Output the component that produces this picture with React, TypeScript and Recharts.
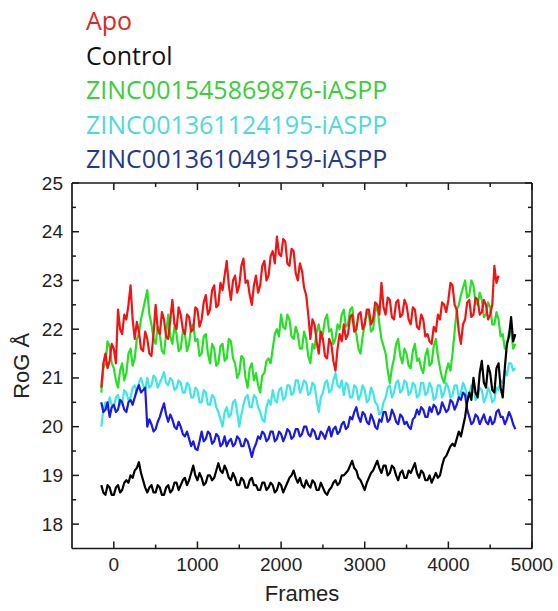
import React from 'react';
import { LineChart, Line, XAxis, YAxis } from 'recharts';

const frames = [
  -150, -125, -100, -75, -50, -25, 0, 25,
  50, 75, 100, 125, 150, 175, 200, 225,
  250, 275, 300, 325, 350, 375, 400, 425,
  450, 475, 500, 525, 550, 575, 600, 625,
  650, 675, 700, 725, 750, 775, 800, 825,
  850, 875, 900, 925, 950, 975, 1000, 1025,
  1050, 1075, 1100, 1125, 1150, 1175, 1200, 1225,
  1250, 1275, 1300, 1325, 1350, 1375, 1400, 1425,
  1450, 1475, 1500, 1525, 1550, 1575, 1600, 1625,
  1650, 1675, 1700, 1725, 1750, 1775, 1800, 1825,
  1850, 1875, 1900, 1925, 1950, 1975, 2000, 2025,
  2050, 2075, 2100, 2125, 2150, 2175, 2200, 2225,
  2250, 2275, 2300, 2325, 2350, 2375, 2400, 2425,
  2450, 2475, 2500, 2525, 2550, 2575, 2600, 2625,
  2650, 2675, 2700, 2725, 2750, 2775, 2800, 2825,
  2850, 2875, 2900, 2925, 2950, 2975, 3000, 3025,
  3050, 3075, 3100, 3125, 3150, 3175, 3200, 3225,
  3250, 3275, 3300, 3325, 3350, 3375, 3400, 3425,
  3450, 3475, 3500, 3525, 3550, 3575, 3600, 3625,
  3650, 3675, 3700, 3725, 3750, 3775, 3800, 3825,
  3850, 3875, 3900, 3925, 3950, 3975, 4000, 4025,
  4050, 4075, 4100, 4125, 4150, 4175, 4200, 4225,
  4250, 4275, 4300, 4325, 4350, 4375, 4400, 4425,
  4450, 4475, 4500, 4525, 4550, 4575, 4600, 4625,
  4650, 4675, 4700, 4725, 4750, 4775, 4800,
];

const apo = [
  20.8, 21.3, 21.5, 21.2, 21.35, 21.7, 21.6, 21.3,
  22.4, 22.0, 21.9, 22.3, 22.2, 22.5, 22.9, 22.2,
  21.8, 22.15, 21.95, 21.6, 21.55, 21.95, 21.8, 21.5,
  21.45, 21.9, 22.5, 22.0, 21.9, 22.35, 22.2, 21.85,
  21.8, 22.2, 22.6, 22.1, 22.0, 22.45, 22.3, 22.0,
  21.9, 22.3, 22.25, 21.95, 22.0, 22.45, 22.4, 22.05,
  22.2, 22.55, 22.7, 22.3, 22.4, 22.8, 22.9, 22.45,
  22.5, 22.95, 22.8, 23.1, 23.4, 22.9, 22.6, 23.0,
  23.1, 22.75, 22.9, 23.3, 23.45, 22.95, 23.0, 22.7,
  22.5, 22.9, 23.1, 22.75, 22.9, 23.3, 23.4, 23.0,
  23.1, 23.5, 23.6, 23.35, 23.9, 23.55, 23.5, 23.85,
  23.8, 23.35, 23.3, 23.65, 23.6, 23.15, 23.0, 23.35,
  23.2, 22.85, 22.7, 22.3, 21.8, 22.2, 22.1, 21.75,
  21.5, 21.95, 21.8, 21.45, 21.4, 21.8, 21.7, 21.35,
  21.15, 21.6, 21.9, 21.75, 22.1, 21.8, 21.9, 22.25,
  22.3, 21.95, 22.0, 22.3, 22.35, 22.0, 22.1, 22.4,
  22.4, 22.1, 22.2, 22.55, 22.5, 22.3, 22.95, 22.45,
  22.3, 22.65, 22.6, 22.25, 22.2, 22.55, 22.6, 22.25,
  22.3, 22.6, 22.5, 22.2, 22.1, 22.45, 22.4, 22.05,
  22.0, 22.3, 22.2, 21.85, 21.9, 21.75, 21.7, 22.05,
  21.95, 22.3, 22.2, 22.55, 22.5, 22.35, 22.6, 22.95,
  22.9, 22.5, 22.4, 21.95, 21.7, 22.1, 22.2, 22.55,
  22.6, 22.25, 22.3, 22.65, 22.6, 22.3, 22.35, 22.6,
  22.5, 22.2, 22.3, 22.5, 23.3, 22.95, 23.1, null,
  null, null, null, null, null, null, null,
];

const control = [
  18.8, 18.65, 18.6, 18.8, 18.75, 18.6, 18.6, 18.75,
  18.8, 18.65, 18.7, 18.85, 18.9, 18.85, 19.0, 18.95,
  19.1, 19.15, 19.27, 19.05, 18.9, 18.75, 18.65, 18.75,
  18.8, 18.65, 18.65, 18.8, 18.75, 18.6, 18.6, 18.75,
  18.8, 18.65, 18.7, 18.85, 18.85, 18.7, 18.8, 18.9,
  18.95, 18.8, 18.9, 19.05, 19.2, 19.0, 18.9, 19.05,
  18.95, 18.8, 18.85, 19.0, 19.0, 18.9, 18.95, 19.1,
  19.25, 19.1, 19.05, 19.2, 19.1, 18.95, 18.9, 19.05,
  18.95, 18.8, 18.8, 18.95, 18.9, 18.75, 18.75, 18.9,
  18.95, 18.8, 18.8, 18.7, 18.7, 18.85, 18.85, 18.7,
  18.75, 18.85, 18.8, 18.65, 18.7, 18.85, 18.8, 18.65,
  18.75, 18.85, 18.95, 19.0, 19.1, 18.95, 18.85, 18.95,
  18.8, 18.75, 18.9, 18.8, 18.75, 18.9, 18.85, 18.7,
  18.7, 18.85, 18.75, 18.65, 18.6, 18.7, 18.75, 18.85,
  18.9, 18.8, 18.85, 19.0, 19.0, 19.05, 19.1, 19.2,
  19.3, 19.15, 19.1, 18.95, 18.9, 18.8, 18.7, 18.85,
  18.95, 19.05, 19.1, 19.2, 19.3, 19.15, 19.05, 19.2,
  19.2, 19.0, 19.05, 19.2, 19.15, 19.0, 18.9, 19.05,
  19.1, 18.95, 18.95, 19.1, 19.05, 19.15, 19.25, 19.05,
  18.95, 19.1, 19.05, 18.9, 18.9, 19.0, 18.85, 18.95,
  19.05, 18.95, 19.0, 19.2, 19.35, 19.4, 19.5, 19.6,
  19.65, 19.6, 19.75, 19.9, 19.8, 20.0, 20.2, 20.5,
  20.7, 20.55, 21.0, 20.7, 20.6, 21.1, 21.35, 20.9,
  20.8, 21.25, 21.1, 20.75, 20.7, 21.2, 21.3, 20.8,
  20.6, 21.2, 21.7, 21.85, 22.25, 21.75, 21.9,
];

const zinc876 = [
  20.7, 21.2, 21.3, 21.75, 21.65, 21.3, 21.2, 20.95,
  20.8, 21.15, 21.3, 20.95, 21.1, 21.5, 21.6, 21.25,
  21.4, 21.8, 21.9, 22.2, 22.4, 22.6, 22.8, 22.3,
  22.1, 21.8, 21.7, 22.05, 21.9, 21.55, 21.5, 21.9,
  22.3, 21.85, 21.7, 22.05, 21.9, 21.55, 21.6, 21.95,
  21.9, 21.55, 21.7, 22.05, 22.1, 21.75, 21.8, 21.45,
  21.5, 21.85, 21.9, 21.5, 21.3, 21.7, 21.6, 21.25,
  21.3, 21.65, 21.7, 21.35, 21.4, 21.8, 21.75, 21.4,
  21.3, 21.0, 21.1, 21.45, 21.4, 21.0, 20.8, 21.2,
  21.3, 20.95, 21.1, 20.85, 20.7, 21.05, 21.1, 21.35,
  21.4, 21.3, 21.6, 21.9, 22.0, 21.85, 22.3, 22.05,
  22.0, 22.3, 22.2, 21.85, 21.8, 22.05, 21.9, 21.6,
  21.6, 21.95, 21.8, 21.45, 21.3, 21.7, 21.6, 21.95,
  22.1, 21.8, 21.9, 22.2, 22.3, 21.95, 22.0, 21.7,
  21.8, 22.1, 22.0, 22.3, 22.4, 22.05, 22.1, 22.4,
  22.45, 22.1, 21.9, 21.6, 21.5, 21.85, 22.1, 22.35,
  22.3, 21.95, 22.0, 22.35, 22.5, 22.1, 21.8, 21.65,
  21.5, 21.15, 20.9, 21.2, 21.4, 21.7, 21.8, 21.45,
  21.3, 21.6, 21.5, 21.25, 21.2, 21.55, 21.7, 21.35,
  21.4, 21.2, 21.1, 21.45, 21.6, 21.25, 21.3, 21.65,
  21.8, 21.45, 21.2, 21.0, 20.9, 21.15, 21.3, 21.15,
  21.5, 21.95, 22.4, 22.5, 22.7, 22.85, 23.0, 22.65,
  22.7, 23.0, 22.9, 22.55, 22.5, 22.75, 22.6, 22.25,
  22.3, 22.55, 22.45, 22.1, 22.1, 22.35, 22.2, 21.85,
  21.9, 21.6, 21.65, 21.95, 21.95, 21.6, 21.7,
];

const zinc195 = [
  20.0, 20.35, 20.5, 20.35, 20.6, 20.45, 20.4, 20.6,
  20.65, 20.45, 20.5, 20.75, 20.7, 20.55, 20.6, 20.8,
  20.85, 20.7, 20.9, 21.0, 20.85, 20.75, 21.0, 20.8,
  20.85, 21.05, 21.0, 20.8, 20.9, 21.0, 21.12, 20.9,
  20.85, 21.0, 20.95, 20.75, 20.8, 20.95, 20.9, 20.7,
  20.7, 20.9, 20.85, 20.6, 20.6, 20.8, 20.75, 20.5,
  20.5, 20.75, 20.7, 20.45, 20.45, 20.65, 20.6, 20.4,
  20.3, 20.15, 20.0, 20.3, 20.4, 20.2, 20.25, 20.5,
  20.55, 20.3, 20.0, 20.25, 20.45, 20.6, 20.65, 20.4,
  20.4, 20.65, 20.6, 20.4, 20.3, 20.15, 20.1, 20.4,
  20.55, 20.45, 20.75, 20.55, 20.5, 20.75, 20.8, 20.55,
  20.6, 20.85, 20.85, 20.65, 20.7, 20.95, 20.95, 20.7,
  20.8, 20.95, 20.9, 20.65, 20.7, 20.9, 20.85, 20.55,
  20.3, 20.6, 20.7, 20.9, 20.95, 20.7, 20.75, 20.95,
  21.1, 20.85, 20.8, 20.95, 20.65, 20.9, 20.85, 20.6,
  20.6, 20.85, 20.8, 20.55, 20.65, 20.85, 20.75, 20.5,
  20.55, 20.8, 20.7, 20.5, 20.45, 20.25, 20.3, 20.5,
  20.6, 20.8, 20.85, 20.6, 20.7, 20.9, 20.95, 20.7,
  20.75, 20.95, 20.9, 20.65, 20.7, 20.9, 20.85, 20.6,
  20.65, 20.9, 20.9, 20.65, 20.7, 20.9, 20.8, 20.55,
  20.6, 20.85, 20.85, 20.6, 20.7, 20.9, 20.8, 20.6,
  20.65, 20.85, 20.85, 20.6, 20.7, 20.9, 20.8, 20.6,
  20.65, 20.85, 20.8, 20.55, 20.6, 20.8, 20.75, 20.5,
  20.6, 20.8, 20.7, 20.5, 20.55, 20.8, 20.75, 20.95,
  20.9, 21.15, 21.05, 21.3, 21.3, 21.15, 21.2,
];

const zinc159 = [
  20.5, 20.3, 20.35, 20.5, 20.2, 20.4, 20.45, 20.3,
  20.35, 20.55, 20.5, 20.35, 20.3, 20.5, 20.55, 20.45,
  20.6, 20.75, 20.85, 20.7, 20.75, 20.8, 20.0, 20.15,
  20.05, 19.9, 19.95, 20.1, 20.2, 20.35, 20.48, 20.25,
  20.1, 20.25, 20.15, 20.0, 19.95, 20.1, 20.0, 19.85,
  19.8, 19.9, 19.75, 19.6, 19.7, 19.55, 19.52, 19.7,
  19.9, 19.7, 19.75, 19.9, 19.85, 19.65, 19.7, 19.85,
  19.8, 19.6, 19.65, 19.8, 19.6, 19.7, 19.75, 19.6,
  19.65, 19.8, 19.75, 19.6, 19.6, 19.75, 19.7, 19.55,
  19.38, 19.55, 19.65, 19.8, 19.75, 19.9, 19.85, 19.7,
  19.75, 19.9, 19.9, 19.7, 19.75, 19.9, 19.85, 19.7,
  19.8, 19.95, 19.9, 19.75, 19.8, 19.95, 19.95, 19.8,
  19.85, 20.0, 20.0, 19.85, 19.8, 19.95, 19.9, 19.75,
  19.75, 19.9, 19.85, 19.75, 19.9, 20.0, 19.8, 19.95,
  20.0, 19.85, 19.9, 20.05, 20.1, 19.95, 20.0, 20.2,
  20.15, 20.3, 20.4, 20.2, 20.1, 20.3, 20.25, 20.1,
  20.05, 20.25, 20.15, 20.0, 19.95, 20.15, 20.1, 20.3,
  20.3, 20.1, 20.15, 20.35, 20.25, 20.1, 20.05, 20.25,
  20.2, 20.05, 20.1, 20.0, 19.95, 20.15, 20.2, 20.35,
  20.25, 20.4, 20.35, 20.2, 20.2, 20.4, 20.3, 20.45,
  20.4, 20.25, 20.3, 20.5, 20.4, 20.3, 20.35, 20.55,
  20.5, 20.35, 20.45, 20.6, 20.55, 20.7, 20.65, 20.35,
  20.2, 20.05, 20.1, 20.25, 20.2, 20.05, 20.15, 20.25,
  20.1, 20.05, 20.2, 20.05, 20.1, 20.3, 20.35, 20.2,
  20.2, 20.05, 20.15, 20.3, 20.2, 20.05, 19.95,
];

const seriesKeys = ['zinc195', 'zinc159', 'zinc876', 'apo', 'control'];
const seriesNames = {
  apo: 'Apo',
  control: 'Control',
  zinc876: 'ZINC001545869876-iASPP',
  zinc195: 'ZINC001361124195-iASPP',
  zinc159: 'ZINC001361049159-iASPP',
};
const lineColors = {
  apo: '#f01414',
  control: '#000000',
  zinc876: '#26e026',
  zinc195: '#40e6e6',
  zinc159: '#1a1ae0',
};
const legendOrder = ['apo', 'control', 'zinc876', 'zinc195', 'zinc159'];
const legendColors = {
  apo: '#d62a2a',
  control: '#111111',
  zinc876: '#3ccc3c',
  zinc195: '#4fd9d9',
  zinc159: '#22398c',
};

const xTicks = [0, 500, 1000, 1500, 2000, 2500, 3000, 3500, 4000, 4500, 5000];
const yTicks = [18, 18.5, 19, 19.5, 20, 20.5, 21, 21.5, 22, 22.5, 23, 23.5, 24, 24.5, 25];

const data = frames.map((f, i) => ({
  frame: f,
  apo: apo[i],
  control: control[i],
  zinc876: zinc876[i],
  zinc195: zinc195[i],
  zinc159: zinc159[i],
}));

const AXIS_FONT = '"Liberation Sans", Arial, sans-serif';
const TICK_COLOR = '#1a1a1a';

const LeftTick = (props: any) => {
  const { x, y, payload } = props;
  const major = Number.isInteger(payload.value);
  return (
    <g>
      <line x1={x} y1={y} x2={x + (major ? 7 : 4)} y2={y} stroke={TICK_COLOR} strokeWidth={1.5} />
      {major && (
        <text x={x - 9} y={y} textAnchor="end" dominantBaseline="central" fontFamily={AXIS_FONT} fontSize={19} fill="#222">
          {payload.value}
        </text>
      )}
    </g>
  );
};

const RightTick = (props: any) => {
  const { x, y, payload } = props;
  const major = Number.isInteger(payload.value);
  return <line x1={x} y1={y} x2={x - (major ? 7 : 4)} y2={y} stroke={TICK_COLOR} strokeWidth={1.5} />;
};

const BottomTick = (props: any) => {
  const { x, y, payload } = props;
  const major = payload.value % 1000 === 0;
  return (
    <g>
      <line x1={x} y1={y} x2={x} y2={y - (major ? 7 : 4)} stroke={TICK_COLOR} strokeWidth={1.5} />
      {major && (
        <text x={x} y={y + 22} textAnchor="middle" fontFamily={AXIS_FONT} fontSize={19} fill="#222">
          {payload.value}
        </text>
      )}
    </g>
  );
};

const TopTick = (props: any) => {
  const { x, y, payload } = props;
  const major = payload.value % 1000 === 0;
  return <line x1={x} y1={y} x2={x} y2={y + (major ? 7 : 4)} stroke={TICK_COLOR} strokeWidth={1.5} />;
};

const FramesLabel = (props: any) => {
  const vb = props.viewBox;
  return (
    <text x={vb.x + vb.width / 2} y={vb.y + vb.height + 51} textAnchor="middle" fontFamily={AXIS_FONT} fontSize={22} fill="#222">
      Frames
    </text>
  );
};

const RogLabel = (props: any) => {
  const vb = props.viewBox;
  const cx = vb.x + vb.width - 51;
  const cy = vb.y + vb.height / 2;
  return (
    <text x={cx} y={cy} transform={`rotate(-90, ${cx}, ${cy})`} textAnchor="middle" dominantBaseline="central" fontFamily={AXIS_FONT} fontSize={22} fill="#222">
      RoG Å
    </text>
  );
};

export default function App() {
  return (
    <div style={{ position: 'absolute', left: 0, top: 0, width: 558, height: 611, background: '#fff' }}>
      <div style={{ position: 'absolute', left: 86, top: 3, fontFamily: '"Open Sans", sans-serif', fontSize: 25, lineHeight: '34.5px' }}>
        {legendOrder.map((k) => (
          <div key={k} style={{ color: (legendColors as any)[k], whiteSpace: 'nowrap' }}>
            {(seriesNames as any)[k]}
          </div>
        ))}
      </div>
      <div style={{ position: 'absolute', left: 0, top: 0 }}>
        <LineChart width={558} height={611} data={data} margin={{ top: 182, right: 25, bottom: 61.5, left: 71 }}>
          <XAxis
            xAxisId="bottom"
            dataKey="frame"
            type="number"
            domain={[-500, 5000]}
            ticks={xTicks}
            interval={0}
            orientation="bottom"
            height={1}
            tickSize={0}
            tickMargin={0}
            tickLine={false}
            axisLine={{ stroke: '#1a1a1a', strokeWidth: 1.7 }}
            tick={<BottomTick />}
            allowDataOverflow
            label={<FramesLabel />}
          />
          <XAxis
            xAxisId="top"
            dataKey="frame"
            type="number"
            domain={[-500, 5000]}
            ticks={xTicks}
            interval={0}
            orientation="top"
            height={1}
            tickSize={0}
            tickMargin={0}
            tickLine={false}
            axisLine={{ stroke: '#1a1a1a', strokeWidth: 1.7 }}
            tick={<TopTick />}
            allowDataOverflow
          />
          <YAxis
            yAxisId="left"
            type="number"
            domain={[17.5, 25]}
            ticks={yTicks}
            interval={0}
            orientation="left"
            width={1}
            tickSize={0}
            tickMargin={0}
            tickLine={false}
            axisLine={{ stroke: '#1a1a1a', strokeWidth: 1.7 }}
            tick={<LeftTick />}
            allowDataOverflow
            label={<RogLabel />}
          />
          <YAxis
            yAxisId="right"
            type="number"
            domain={[17.5, 25]}
            ticks={yTicks}
            interval={0}
            orientation="right"
            width={1}
            tickSize={0}
            tickMargin={0}
            tickLine={false}
            axisLine={{ stroke: '#1a1a1a', strokeWidth: 1.7 }}
            tick={<RightTick />}
            allowDataOverflow
          />
          {seriesKeys.map((k) => (
            <Line
              key={k}
              xAxisId="bottom"
              yAxisId="left"
              type="linear"
              dataKey={k}
              name={(seriesNames as any)[k]}
              stroke={(lineColors as any)[k]}
              strokeWidth={2.2}
              strokeLinejoin="round"
              dot={false}
              activeDot={false}
              isAnimationActive={false}
            />
          ))}
        </LineChart>
      </div>
    </div>
  );
}
